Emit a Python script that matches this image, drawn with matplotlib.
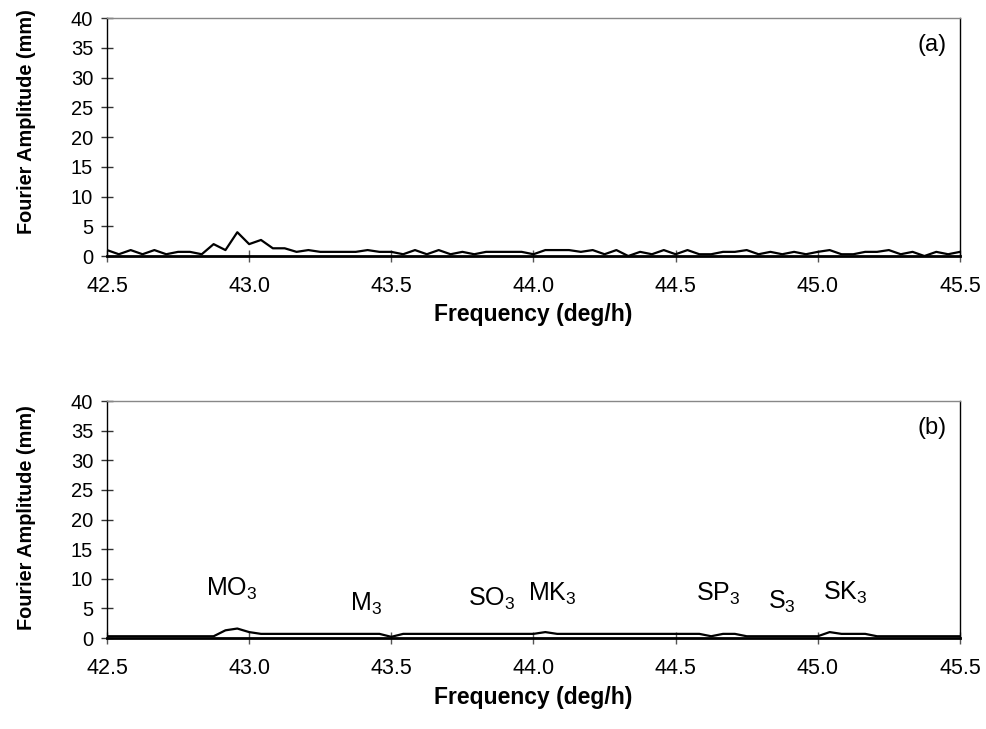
import numpy as np
import matplotlib
matplotlib.use("Agg")
import matplotlib.pyplot as plt

plt.rcParams['font.family'] = ['Liberation Sans', 'DejaVu Sans']
plt.rcParams['mathtext.fontset'] = 'custom'
plt.rcParams['mathtext.rm'] = 'Liberation Sans'
plt.rcParams['mathtext.it'] = 'Liberation Sans'
plt.rcParams['mathtext.default'] = 'regular'

# Frequency grid (deg/h), step 1/24
freq_start = 42.5
freq_step = 1.0 / 24.0
n_points = 73

amp_a = [1.0, 0.3, 1.0, 0.3, 1.0, 0.3, 0.7, 0.7, 0.3, 2.0,
         1.0, 4.0, 2.0, 2.7, 1.3, 1.3, 0.7, 1.0, 0.7, 0.7,
         0.7, 0.7, 1.0, 0.7, 0.7, 0.3, 1.0, 0.3, 1.0, 0.3,
         0.7, 0.3, 0.7, 0.7, 0.7, 0.7, 0.3, 1.0, 1.0, 1.0,
         0.7, 1.0, 0.3, 1.0, 0.0, 0.7, 0.3, 1.0, 0.3, 1.0,
         0.3, 0.3, 0.7, 0.7, 1.0, 0.3, 0.7, 0.3, 0.7, 0.3,
         0.7, 1.0, 0.3, 0.3, 0.7, 0.7, 1.0, 0.3, 0.7, 0.0,
         0.7, 0.3, 0.7]

amp_b = [0.3, 0.3, 0.3, 0.3, 0.3, 0.3, 0.3, 0.3, 0.3, 0.3,
         1.3, 1.6, 1.0, 0.7, 0.7, 0.7, 0.7, 0.7, 0.7, 0.7,
         0.7, 0.7, 0.7, 0.7, 0.2, 0.7, 0.7, 0.7, 0.7, 0.7,
         0.7, 0.7, 0.7, 0.7, 0.7, 0.7, 0.7, 1.0, 0.7, 0.7,
         0.7, 0.7, 0.7, 0.7, 0.7, 0.7, 0.7, 0.7, 0.7, 0.7,
         0.7, 0.3, 0.7, 0.7, 0.3, 0.3, 0.3, 0.3, 0.3, 0.3,
         0.3, 1.0, 0.7, 0.7, 0.7, 0.3, 0.3, 0.3, 0.3, 0.3,
         0.3, 0.3, 0.3]

constituents = ['MO$_3$', 'M$_3$', 'SO$_3$', 'MK$_3$', 'SP$_3$', 'S$_3$', 'SK$_3$']
const_x = [42.94, 43.41, 43.853, 44.066, 44.65, 44.875, 45.095]
const_y = [7.2, 4.6, 5.4, 6.3, 6.3, 5.0, 6.5]

xticks = [42.5, 43.0, 43.5, 44.0, 44.5, 45.0, 45.5]
xticklabels = ['42.5', '43.0', '43.5', '44.0', '44.5', '45.0', '45.5']
yticks = [0, 5, 10, 15, 20, 25, 30, 35, 40]

freq = freq_start + freq_step * np.arange(n_points)

fig = plt.figure(figsize=(9.87, 7.29), dpi=100)
ax_a = fig.add_axes([0.1084, 0.6488, 0.8642, 0.3265])
ax_b = fig.add_axes([0.1084, 0.1248, 0.8642, 0.3251])

panels = [(ax_a, amp_a, '(a)', -0.245, 0.563), (ax_b, amp_b, '(b)', -0.25, 0.51)]
for ax, amp, tag, xl_y, yl_y in panels:
    ax.plot(freq, amp, color='black', lw=1.6, zorder=3)
    ax.set_xlim(42.5, 45.5)
    ax.set_ylim(0, 40)
    ax.set_xticks(xticks)
    ax.set_xticklabels(xticklabels)
    ax.set_yticks(yticks)
    ax.tick_params(axis='x', direction='inout', length=9, width=1, color='#555555',
                   labelsize=15.5, pad=10)
    ax.tick_params(axis='y', direction='inout', length=8, width=1, color='#333333',
                   labelsize=14.5, pad=6)
    ax.spines['top'].set_color('#888888')
    ax.spines['top'].set_linewidth(1.0)
    ax.spines['right'].set_color('black')
    ax.spines['right'].set_linewidth(1.0)
    ax.spines['left'].set_linewidth(1.0)
    ax.spines['bottom'].set_linewidth(2.0)
    ax.set_xlabel('Frequency (deg/h)', fontsize=16.5, fontweight='bold')
    ax.set_ylabel('Fourier Amplitude (mm)', fontsize=14.3, fontweight='bold')
    ax.xaxis.set_label_coords(0.5, xl_y)
    ax.xaxis.label.set_va('center')
    ax.yaxis.set_label_coords(-0.0938, yl_y)
    ax.yaxis.label.set_va('center')
    ax.text(0.967, 0.887, tag, transform=ax.transAxes, fontsize=17,
            ha='center', va='center')

for name, x, y in zip(constituents, const_x, const_y):
    ax_b.text(x, y, name, fontsize=18, ha='center', va='baseline')

fig.savefig('out.png', dpi=100)
